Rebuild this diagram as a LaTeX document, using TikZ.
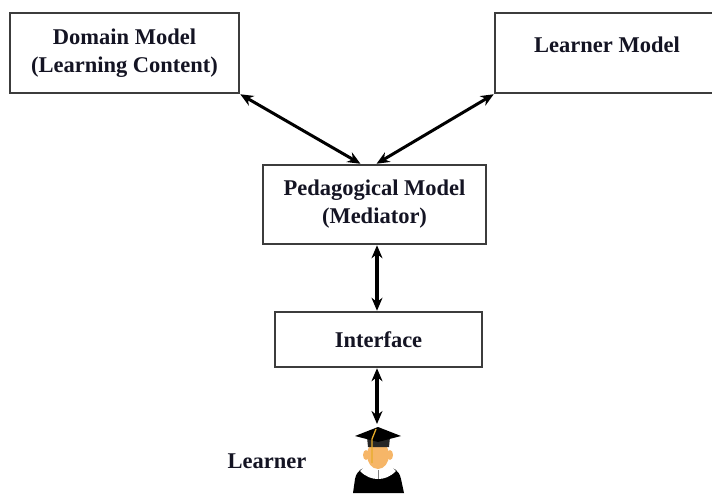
\documentclass[tikz,border=0pt]{standalone}
\usepackage{fontspec}
\setmainfont{Liberation Serif}
\usetikzlibrary{arrows.meta,positioning,calc}
\definecolor{boxgray}{RGB}{60,60,60}
\definecolor{textnavy}{RGB}{20,20,35}
\definecolor{facepeach}{RGB}{246,182,104}
\definecolor{tasselgold}{RGB}{232,172,40}

\begin{document}
\begin{tikzpicture}[x=1pt,y=-1pt,
    modelbox/.style={draw=boxgray,line width=2.5pt,fill=white,align=center,inner sep=0pt,
        font=\fontsize{22.5}{28}\selectfont\bfseries,text=textnavy},
    link/.style={line width=3pt,{Stealth[length=13pt,width=11pt]}-{Stealth[length=13pt,width=11pt]}}]
    \clip (0,0) rectangle (712,493);

    % Models
    \node[modelbox,minimum width=229pt,minimum height=80pt] (dom) at (124.5,53) {Domain Model\\(Learning Content)};
    \node[modelbox,minimum width=224pt,minimum height=80pt,text height=16pt,text depth=18pt] (lrn) at (607,53) {Learner Model};
    \node[modelbox,minimum width=223pt,minimum height=79pt] (ped) at (374.5,204.5) {Pedagogical Model\\(Mediator)};
    \node[modelbox,minimum width=207pt,minimum height=55pt] (intf) at (378.5,339.5) {Interface};
    \node[font=\fontsize{22.5}{28}\selectfont\bfseries,text=textnavy] (lname) at (267,461) {Learner};
    \coordinate (grad) at (377,424);

    % Learner icon
    \fill[black] (353,493) -- (355,479) .. controls (357,470) and (362,468) .. (370,466) -- (386,466)
        .. controls (394,468) and (399,470) .. (401,479) -- (404,493) -- cycle;
    \fill[white] (360,471) .. controls (366,477) and (372,479) .. (378,479) .. controls (384,479) and (390,477) .. (396,471)
        -- (389,464) -- (367,464) -- cycle;
    \draw[black!50,line width=0.8pt] (378,470) -- (378,479);
    \fill[facepeach] (366,455) ellipse (3 and 5);
    \fill[facepeach] (390,455) ellipse (3 and 5);
    \fill[facepeach] (378,455) ellipse (11 and 14);
    \fill[black!85] (367,437) -- (390,437) -- (389,447) -- (368,447) -- cycle;
    \fill[black] (378,427) -- (401,436) -- (378,442) -- (355,436) -- cycle;
    \draw[tasselgold,line width=1.3pt] (376,429) -- (372,439) -- (372,463);

    % Connections
    \draw[link] (dom.south east) -- ([xshift=-14pt]ped.north);
    \draw[link] (lrn.south west) -- ([xshift=2pt]ped.north);
    \draw[link,line width=3.4pt] (ped.south -| grad) -- (intf.north -| grad);
    \draw[link,line width=3.4pt] (intf.south -| grad) -- (grad);
\end{tikzpicture}
\end{document}
